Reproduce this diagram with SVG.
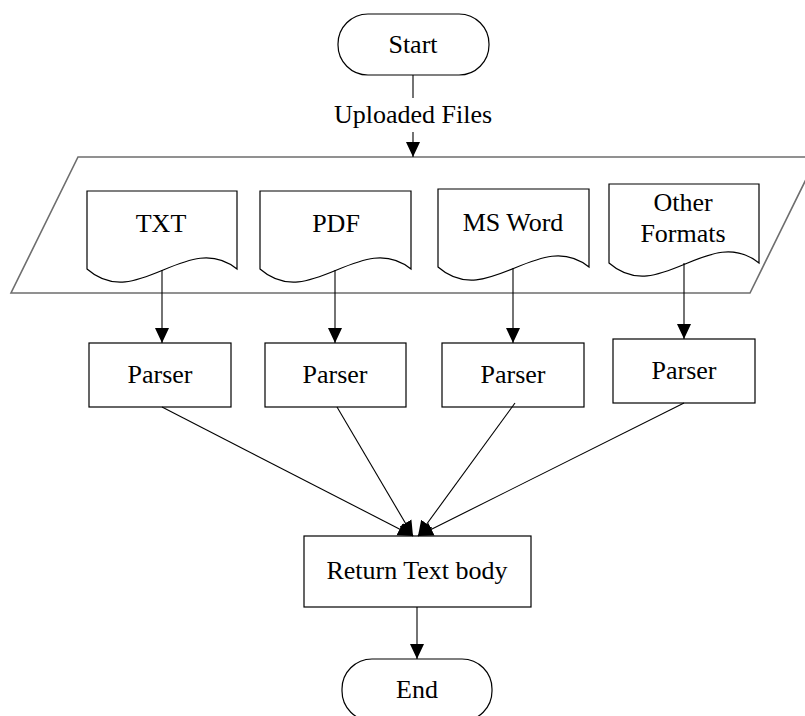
<svg xmlns="http://www.w3.org/2000/svg" width="805" height="716" viewBox="0 0 805 716">
<style>
.s{fill:#fff;stroke:#000;stroke-width:1.2}
.t{font-family:"Liberation Serif","Times New Roman",serif;font-size:26px;fill:#000;text-anchor:middle}
.c{fill:none;stroke:#000;stroke-width:1.1}
</style>
<defs>
<marker id="a" markerUnits="userSpaceOnUse" markerWidth="15" markerHeight="16" viewBox="0 0 15 14" refX="15" refY="7" orient="auto">
<path d="M0,0 L15,7 L0,14 Z" fill="#000"/>
</marker>
</defs>
<rect width="805" height="716" fill="#fff"/>
<g id="start">
<rect class="s" x="338" y="14" width="151" height="61" rx="30" ry="30"/>
<text class="t" x="413" y="53">Start</text>
</g>
<g id="files">
<polygon points="78,157 817,157 750,293 11,293" fill="#fff" stroke="#6e6e6e" stroke-width="1.6"/>
</g>
<g id="doc-txt">
<path class="s" d="M87,191 H237 V269 C187,229 137,313 87,269 Z"/>
<text class="t" x="161" y="232">TXT</text>
</g>
<g id="doc-pdf">
<path class="s" d="M260,191 H411 V269 C361,229 310,313 260,269 Z"/>
<text class="t" x="336" y="232">PDF</text>
</g>
<g id="doc-word">
<path class="s" d="M438,189 H589 V267 C539,227 488,311 438,267 Z"/>
<text class="t" x="513" y="231">MS Word</text>
</g>
<g id="doc-other">
<path class="s" d="M609,184 H759 V263 C709,223 659,307 609,263 Z"/>
<text class="t" x="683" y="211">Other</text>
<text class="t" x="683" y="242">Formats</text>
</g>
<g id="parser1">
<rect class="s" x="89" y="343" width="142" height="64"/>
<text class="t" x="160" y="383">Parser</text>
</g>
<g id="parser2">
<rect class="s" x="265" y="343" width="141" height="64"/>
<text class="t" x="335" y="383">Parser</text>
</g>
<g id="parser3">
<rect class="s" x="442" y="343" width="142" height="64"/>
<text class="t" x="513" y="383">Parser</text>
</g>
<g id="parser4">
<rect class="s" x="613" y="339" width="142" height="64"/>
<text class="t" x="684" y="379">Parser</text>
</g>
<g id="return">
<rect class="s" x="304" y="536" width="227" height="71"/>
<text class="t" x="417" y="579">Return Text body</text>
</g>
<g id="end">
<rect class="s" x="342" y="659" width="150" height="62" rx="30" ry="30"/>
<text class="t" x="417" y="698">End</text>
</g>
<g id="connectors">
<line class="c" x1="413" y1="75" x2="413" y2="98"/>
<text class="t" x="413" y="123">Uploaded Files</text>
<line class="c" x1="413" y1="132" x2="413" y2="157" marker-end="url(#a)"/>
<line class="c" x1="162" y1="270" x2="162" y2="343" marker-end="url(#a)"/>
<line class="c" x1="335" y1="270" x2="335" y2="343" marker-end="url(#a)"/>
<line class="c" x1="513" y1="268" x2="513" y2="343" marker-end="url(#a)"/>
<line class="c" x1="684" y1="263" x2="684" y2="339" marker-end="url(#a)"/>
<line class="c" x1="162" y1="407" x2="413" y2="536" marker-end="url(#a)"/>
<line class="c" x1="337" y1="407" x2="413" y2="536" marker-end="url(#a)"/>
<line class="c" x1="515" y1="403" x2="418" y2="536" marker-end="url(#a)"/>
<line class="c" x1="684" y1="403" x2="418" y2="536" marker-end="url(#a)"/>
<line class="c" x1="417" y1="607" x2="417" y2="659" marker-end="url(#a)"/>
</g>
</svg>
